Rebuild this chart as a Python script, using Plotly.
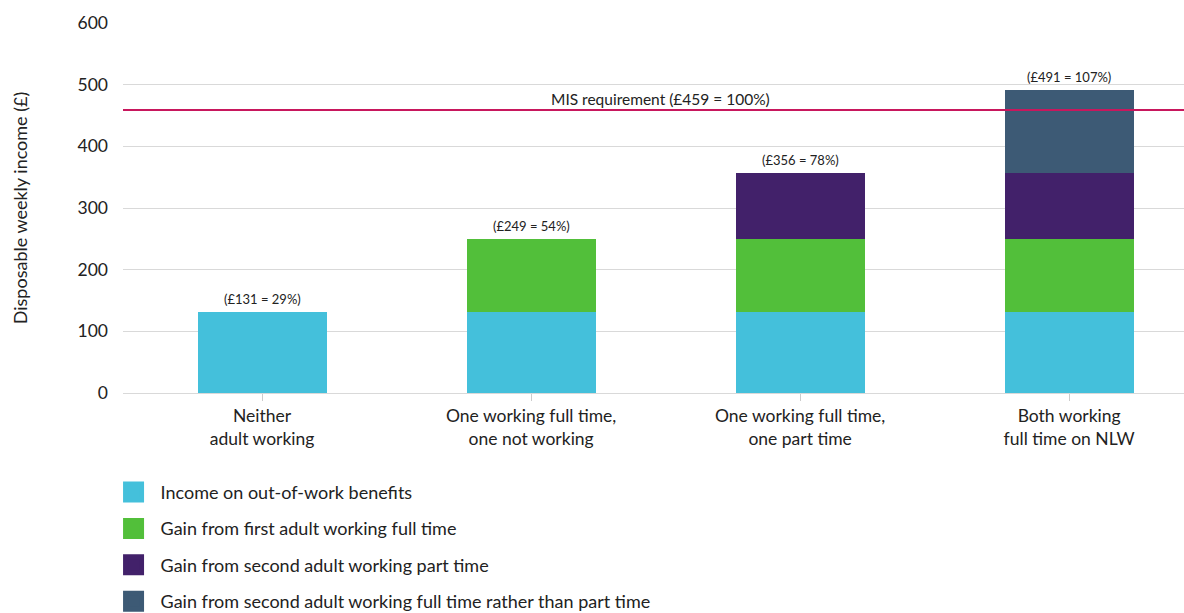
import plotly.graph_objects as go

categories = ["Neither<br>adult working", "One working full time,<br>one not working",
              "One working full time,<br>one part time", "Both working<br>full time on NLW"]
series_names = ["Income on out-of-work benefits", "Gain from first adult working full time",
                "Gain from second adult working part time",
                "Gain from second adult working full time rather than part time"]
benefits = [131, 131, 131, 131]
first_ft = [0, 118, 118, 118]
second_pt = [0, 0, 107, 107]
second_ft = [0, 0, 0, 135]
totals = [131, 249, 356, 491]
total_labels = ["(£131 = 29%)", "(£249 = 54%)", "(£356 = 78%)", "(£491 = 107%)"]
mis_value = 459
mis_label = "MIS requirement (£459 = 100%)"

colors = ["#44c0db", "#52bf3a", "#42216a", "#3d5a75"]
font_family = "Lato, 'Open Sans', sans-serif"
txt = "#222222"

fig = go.Figure()
xs = list(range(len(categories)))
for name, vals, col in zip(series_names, [benefits, first_ft, second_pt, second_ft], colors):
    fig.add_trace(go.Bar(x=xs, y=vals, marker=dict(color=col, line=dict(width=0)),
                         width=0.48, name=name, showlegend=False, hoverinfo="y"))
    fig.add_trace(go.Scatter(x=[None], y=[None], mode="markers", name=name,
                             marker=dict(symbol="square", size=16, color=col,
                                         line=dict(color=col, width=7)),
                             showlegend=True, legendgroup=name))

for x, t, lab in zip(xs, totals, total_labels):
    fig.add_annotation(x=x, y=t, text=lab, showarrow=False, yanchor="bottom", yshift=3,
                       font=dict(size=13, color=txt, family=font_family))

fig.add_shape(type="line", xref="paper", x0=0, x1=1, y0=mis_value, y1=mis_value,
              line=dict(color="#c8175d", width=2), layer="above")
fig.add_annotation(xref="paper", x=0.507, y=mis_value, text=mis_label, showarrow=False,
                   yanchor="bottom", yshift=0, font=dict(size=15.5, color=txt, family=font_family))

fig.update_layout(
    width=1184, height=613,
    margin=dict(l=123, r=0, t=23, b=220, autoexpand=False),
    paper_bgcolor="white", plot_bgcolor="white",
    barmode="stack",
    font=dict(family=font_family, color=txt),
    showlegend=True,
    legend=dict(x=-0.0155, y=-0.2185, xanchor="left", yanchor="top", orientation="v",
                font=dict(size=18, color=txt, family=font_family),
                tracegroupgap=10, traceorder="grouped", itemwidth=44,
                bgcolor="rgba(0,0,0,0)"),
    xaxis=dict(tickmode="array", tickvals=xs, ticktext=categories, range=[-0.517, 3.427],
               ticks="outside", ticklen=7, tickcolor="#cccccc", showgrid=False,
               showline=False, zeroline=False,
               tickfont=dict(size=17.5, color=txt, family=font_family)),
    yaxis=dict(range=[0, 600], tickvals=[0, 100, 200, 300, 400, 500, 600], showgrid=True,
               gridcolor="#d9d9d9", gridwidth=1, zeroline=True, zerolinecolor="#d9d9d9",
               zerolinewidth=1, ticks="", ticklabelstandoff=14,
               tickfont=dict(size=17.5, color=txt, family=font_family),
               title=dict(text="Disposable weekly income (£)", standoff=45,
                          font=dict(size=18, color=txt, family=font_family))),
)

fig.write_html("out.html")
